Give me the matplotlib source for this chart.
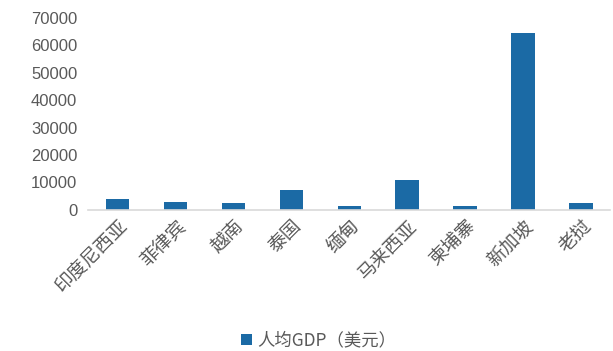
import matplotlib.pyplot as plt
import numpy as np
from matplotlib.patches import Patch

plt.rcParams['font.family'] = ['Noto Sans CJK SC', 'DejaVu Sans']

countries = ['印度尼西亚', '菲律宾', '越南', '泰国', '缅甸', '马来西亚', '柬埔寨', '新加坡', '老挝']
gdp_per_capita = [3900, 3000, 2500, 7150, 1250, 11000, 1450, 64500, 2550]

bar_color = '#1B6AA5'
text_color = '#595959'

fig = plt.figure(figsize=(6.13, 3.51), dpi=100)
ax = fig.add_axes([0.144, 0.402, 0.851, 0.547])

ind = np.arange(len(countries))
ax.bar(ind, gdp_per_capita, 0.4, color=bar_color)

ax.set_ylim(0, 70000)
ax.set_yticks(np.arange(0, 70001, 10000))
ax.set_xlim(-0.5, len(countries) - 0.5)
ax.set_xticks(ind)
ax.set_xticklabels(countries, rotation=45, ha='right', rotation_mode='anchor',
                   fontsize=13.5, color=text_color, fontweight='light')
for lab in ax.get_yticklabels():
    lab.set_fontfamily(['Liberation Sans', 'DejaVu Sans'])
ax.tick_params(axis='y', length=0, labelsize=12, labelcolor=text_color, pad=8)
ax.tick_params(axis='x', length=0, pad=4)

for side in ['top', 'right', 'left']:
    ax.spines[side].set_visible(False)
ax.spines['bottom'].set_color('#D9D9D9')
ax.spines['bottom'].set_linewidth(1.2)

handle = Patch(facecolor=bar_color, edgecolor='none')
fig.legend([handle], ['人均GDP（美元）'], loc='center', bbox_to_anchor=(0.52, 0.03),
           frameon=False, fontsize=12.5, labelcolor=text_color,
           handlelength=0.6, handleheight=0.6, handletextpad=0.3)

plt.savefig('out.png', dpi=100)
